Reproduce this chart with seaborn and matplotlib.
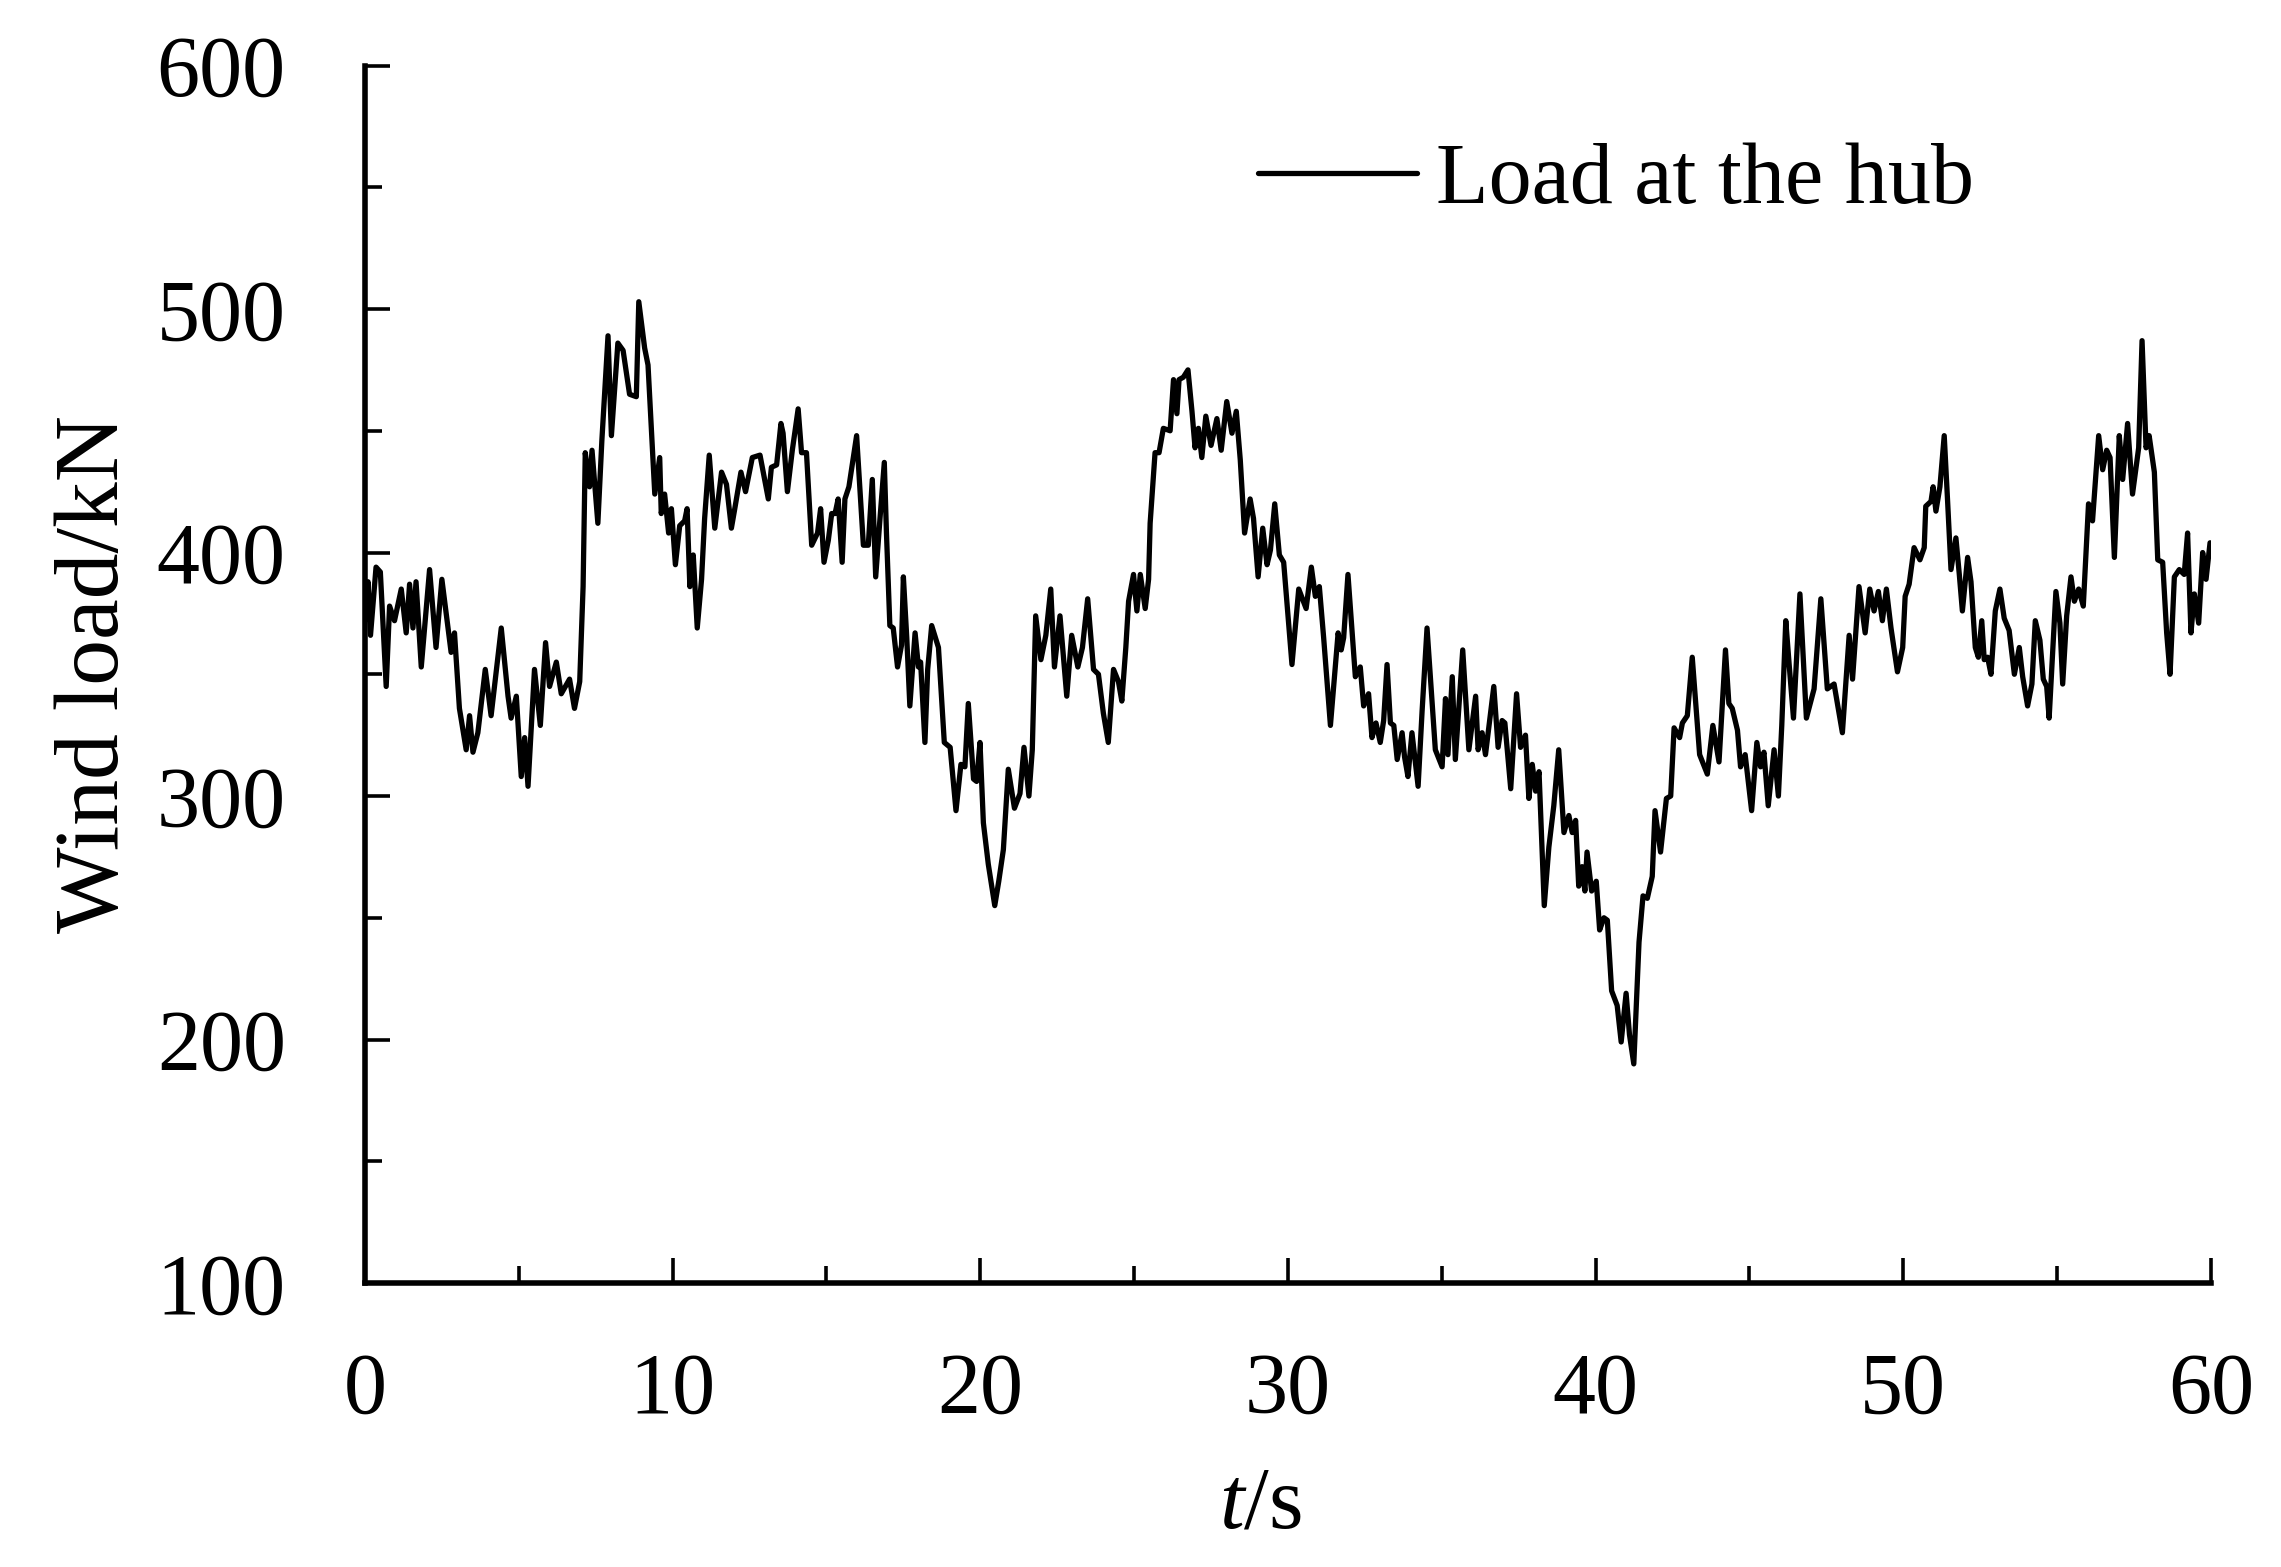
import matplotlib
matplotlib.use("Agg")
import matplotlib.pyplot as plt
from matplotlib.ticker import MultipleLocator
import pandas as pd
import seaborn as sns

# values
time_s = [
    0.00, 0.10, 0.18, 0.36, 0.50, 0.69, 0.80, 0.96, 1.18, 1.34, 1.45, 1.56, 1.66, 1.83,
    2.10, 2.31, 2.50, 2.80, 2.91, 3.07, 3.29, 3.40, 3.51, 3.67, 3.91, 4.10, 4.43, 4.65,
    4.75, 4.92, 5.08, 5.19, 5.30, 5.51, 5.70, 5.87, 6.00, 6.22, 6.38, 6.65, 6.81, 6.98,
    7.09, 7.16, 7.30, 7.38, 7.57, 7.70, 7.90, 8.01, 8.22, 8.39, 8.60, 8.82, 8.90, 9.09,
    9.20, 9.42, 9.58, 9.63, 9.74, 9.87, 9.96, 10.09, 10.23, 10.39, 10.47, 10.56, 10.67,
    10.80, 10.94, 11.04, 11.19, 11.37, 11.59, 11.75, 11.91, 12.02, 12.22, 12.37, 12.59,
    12.84, 13.11, 13.21, 13.38, 13.52, 13.59, 13.73, 13.89, 14.08, 14.19, 14.35, 14.52,
    14.71, 14.81, 14.92, 15.06, 15.17, 15.28, 15.38, 15.51, 15.60, 15.73, 15.98, 16.20,
    16.36, 16.49, 16.60, 16.74, 16.88, 16.95, 17.06, 17.17, 17.31, 17.44, 17.50, 17.61,
    17.71, 17.88, 17.99, 18.06, 18.20, 18.29, 18.42, 18.64, 18.83, 19.02, 19.21, 19.37,
    19.50, 19.61, 19.78, 19.88, 19.99, 20.10, 20.26, 20.47, 20.60, 20.75, 20.91, 21.11,
    21.29, 21.42, 21.58, 21.69, 21.80, 21.97, 22.13, 22.29, 22.41, 22.59, 22.81, 22.97,
    23.17, 23.32, 23.49, 23.68, 23.84, 24.00, 24.16, 24.33, 24.49, 24.60, 24.73, 24.82,
    24.98, 25.09, 25.20, 25.36, 25.47, 25.52, 25.68, 25.81, 25.95, 26.17, 26.28, 26.39,
    26.46, 26.60, 26.75, 26.88, 26.98, 27.09, 27.20, 27.33, 27.50, 27.69, 27.83, 28.01,
    28.18, 28.32, 28.39, 28.45, 28.59, 28.77, 28.88, 29.03, 29.18, 29.32, 29.43, 29.57,
    29.72, 29.86, 30.13, 30.35, 30.59, 30.76, 30.89, 31.02, 31.16, 31.38, 31.63, 31.73,
    31.81, 31.95, 32.19, 32.35, 32.46, 32.62, 32.73, 32.86, 33.00, 33.11, 33.22, 33.33,
    33.44, 33.55, 33.71, 33.79, 33.90, 34.03, 34.23, 34.36, 34.52, 34.79, 35.01, 35.12,
    35.20, 35.34, 35.44, 35.68, 35.88, 36.10, 36.18, 36.31, 36.42, 36.69, 36.83, 36.96,
    37.05, 37.24, 37.43, 37.56, 37.72, 37.83, 37.94, 38.05, 38.16, 38.33, 38.48, 38.64,
    38.80, 38.97, 39.13, 39.24, 39.35, 39.45, 39.56, 39.65, 39.72, 39.87, 40.02, 40.13,
    40.27, 40.38, 40.52, 40.70, 40.83, 40.99, 41.10, 41.24, 41.41, 41.54, 41.68, 41.84,
    41.93, 42.11, 42.30, 42.44, 42.55, 42.73, 42.82, 42.98, 43.14, 43.38, 43.63, 43.81,
    44.01, 44.22, 44.33, 44.44, 44.61, 44.71, 44.86, 45.07, 45.24, 45.36, 45.47, 45.61,
    45.80, 45.94, 46.05, 46.18, 46.29, 46.43, 46.64, 46.85, 47.10, 47.32, 47.53, 47.75,
    48.02, 48.24, 48.35, 48.56, 48.76, 48.91, 49.05, 49.19, 49.32, 49.45, 49.60, 49.81,
    49.98, 50.06, 50.19, 50.35, 50.54, 50.68, 50.73, 50.90, 50.97, 51.06, 51.19, 51.33,
    51.44, 51.55, 51.71, 51.82, 51.92, 52.09, 52.20, 52.34, 52.44, 52.55, 52.63, 52.74,
    52.85, 52.99, 53.14, 53.28, 53.44, 53.61, 53.77, 53.88, 54.04, 54.18, 54.29, 54.44,
    54.55, 54.66, 54.74, 54.96, 55.09, 55.18, 55.31, 55.45, 55.56, 55.70, 55.85, 56.02,
    56.15, 56.35, 56.48, 56.61, 56.72, 56.86, 57.02, 57.13, 57.29, 57.45, 57.65, 57.76,
    57.89, 57.99, 58.16, 58.27, 58.43, 58.56, 58.67, 58.81, 58.97, 59.13, 59.24, 59.35,
    59.46, 59.60, 59.73, 59.84, 59.97,
]
load_kn = [
    372, 388, 366, 394, 392, 345, 378, 372, 385, 367, 387, 369, 388, 353,
    393, 361, 389, 359, 367, 336, 319, 333, 318, 326, 352, 333, 369, 341,
    332, 341, 308, 324, 304, 352, 329, 363, 345, 355, 342, 348, 336, 347,
    386, 441, 427, 442, 412, 446, 489, 448, 486, 483, 465, 464, 503, 484,
    477, 424, 439, 416, 424, 408, 418, 395, 411, 413, 418, 386, 399,
    369, 389, 414, 440, 410, 433, 428, 410, 418, 433, 425, 439,
    440, 422, 435, 436, 453, 449, 425, 442, 459, 441, 441, 403,
    408, 418, 396, 405, 416, 416, 422, 396, 422, 427, 448, 403,
    403, 430, 390, 414, 437, 408, 370, 369, 353, 362, 390, 365,
    337, 367, 353, 355, 322, 352, 370, 361, 322, 320, 294, 313,
    312, 338, 307, 306, 322, 289, 272, 255, 265, 278, 311, 295,
    301, 320, 300, 319, 374, 356, 366, 385, 353, 374, 341, 366,
    353, 361, 381, 352, 350, 334, 322, 352, 347, 339, 361, 380,
    391, 376, 391, 377, 389, 412, 441, 441, 451, 450, 471, 457,
    471, 472, 475, 458, 443, 451, 439, 456, 444, 455, 442, 462,
    449, 458, 447, 438, 408, 422, 414, 390, 410, 395, 401, 420,
    399, 396, 354, 385, 377, 394, 382, 386, 365, 329, 367, 360,
    365, 391, 349, 353, 337, 342, 324, 330, 322, 331, 354, 330,
    329, 315, 326, 316, 308, 326, 304, 335, 369, 319, 312, 340,
    317, 349, 315, 360, 319, 341, 319, 326, 317, 345, 320, 331,
    330, 303, 342, 320, 325, 299, 313, 302, 310, 255, 279, 296,
    319, 285, 292, 285, 290, 263, 271, 261, 277, 261, 265, 245,
    250, 249, 220, 214, 199, 219, 202, 190, 240, 259, 258, 267,
    294, 277, 299, 300, 328, 324, 330, 333, 357, 317, 309, 329,
    314, 360, 338, 336, 327, 312, 317, 294, 322, 312, 318, 296,
    319, 300, 329, 372, 354, 332, 383, 332, 344, 381, 344, 346,
    326, 366, 348, 386, 367, 385, 376, 384, 372, 385, 369, 351,
    361, 382, 387, 402, 397, 402, 419, 421, 427, 417, 427, 448,
    421, 393, 406, 391, 376, 398, 388, 361, 357, 372, 356, 357,
    350, 376, 385, 373, 368, 350, 361, 349, 337, 346, 372, 364,
    348, 345, 332, 384, 371, 346, 374, 390, 380, 385, 378, 420,
    413, 448, 434, 442, 439, 398, 448, 430, 453, 424, 443, 487,
    443, 448, 433, 397, 396, 367, 350, 390, 393, 391, 408, 367,
    383, 371, 400, 389, 404,
]
series_label = "Load at the hub"
x_ticks = [0, 10, 20, 30, 40, 50, 60]
y_ticks = [100, 200, 300, 400, 500, 600]

sns.set_style("ticks")
plt.rcParams["font.family"] = ["Liberation Serif", "DejaVu Serif"]
plt.rcParams["mathtext.fontset"] = "custom"
plt.rcParams["mathtext.rm"] = "Liberation Serif"
plt.rcParams["mathtext.it"] = "Liberation Serif:italic"
plt.rcParams["text.color"] = "black"
plt.rcParams["axes.labelcolor"] = "black"

fig = plt.figure(figsize=(22.81, 15.67), dpi=100)
ax = fig.add_axes([0.160, 0.1812, 0.8093, 0.777])

df = pd.DataFrame({"t": time_s, "load": load_kn})
sns.lineplot(data=df, x="t", y="load", ax=ax, color="black", linewidth=3.8,
             label=series_label, sort=False, estimator=None)

ax.set_xlim(0, 60)
ax.set_ylim(100, 600)
ax.set_xticks(x_ticks)
ax.set_yticks(y_ticks)
ax.xaxis.set_minor_locator(MultipleLocator(5))
ax.yaxis.set_minor_locator(MultipleLocator(50))
ax.tick_params(which="both", direction="in", width=2.6, color="black",
               labelsize=62, labelcolor="black")
ax.tick_params(which="major", length=18)
ax.tick_params(which="minor", length=12)
ax.tick_params(axis="y", which="major", pad=57)
ax.tick_params(axis="x", which="major", pad=50)

for side in ["top", "right"]:
    ax.spines[side].set_visible(False)
for side in ["left", "bottom"]:
    ax.spines[side].set_linewidth(4.0)
    ax.spines[side].set_color("black")

ax.set_xlabel("$t$/s", fontsize=64, color="black")
ax.xaxis.set_label_coords(0.485, -0.150)
ax.set_ylabel("Wind load/kN", fontsize=66, labelpad=14, color="black")

leg = ax.legend(loc="center left", bbox_to_anchor=(0.5515, 0.8839),
                bbox_transform=fig.transFigure, frameon=False, fontsize=62,
                handlelength=1.85, handletextpad=0.22, borderpad=0, borderaxespad=0)
for txt in leg.get_texts():
    txt.set_color("black")

fig.savefig("out.png", dpi=100)
